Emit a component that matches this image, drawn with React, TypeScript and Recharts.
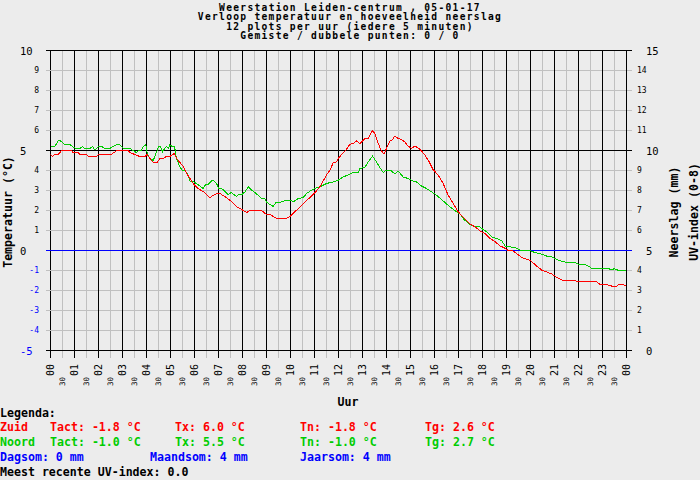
import { LineChart, Line, XAxis, YAxis, ReferenceLine } from 'recharts';

// Weerstation Leiden-centrum, 05-01-17: temperatuur zuid/noord per 5 minuten
const titleLines = [
  'Weerstation Leiden-centrum , 05-01-17',
  'Verloop temperatuur en hoeveelheid neerslag',
  '12 plots per uur (iedere 5 minuten)',
  'Gemiste / dubbele punten: 0 / 0',
];

const uurLabels = [
  '00', '01', '02', '03', '04', '05', '06', '07', '08', '09', '10', '11', '12',
  '13', '14', '15', '16', '17', '18', '19', '20', '21', '22', '23', '00',
];
const tempTicks = [-5, -4, -3, -2, -1, 0, 1, 2, 3, 4, 5, 6, 7, 8, 9, 10];
const neerslagTicks = [0, 1, 2, 3, 4, 5, 6, 7, 8, 9, 10, 11, 12, 13, 14, 15];

// [uur, temperatuur]
const zuid: [number, number][] = [
  [0, 4.8], [0.08, 4.7], [0.18, 4.8], [0.32, 4.8], [0.46, 5.0], [0.88, 5.0], [0.94, 4.9],
  [1.15, 4.9], [1.22, 4.8], [1.5, 4.8], [1.57, 4.7], [1.92, 4.7], [1.99, 4.8], [2.54, 4.8],
  [2.64, 4.9], [2.78, 5.0], [3.24, 5.0], [3.31, 4.9], [3.51, 4.8], [3.72, 4.7], [3.93, 4.7],
  [4.03, 4.8], [4.14, 4.6], [4.28, 4.4], [4.44, 4.4], [4.56, 4.6], [4.69, 4.6], [4.83, 4.7],
  [4.97, 4.7], [5.08, 4.8], [5.17, 4.85], [5.25, 4.6], [5.39, 4.4], [5.53, 4.2], [5.67, 3.85],
  [5.81, 3.6], [5.97, 3.3], [6.15, 3.1], [6.36, 2.95], [6.64, 2.65], [6.78, 2.75], [6.92, 2.85],
  [7.06, 2.85], [7.19, 2.75], [7.33, 2.65], [7.54, 2.45], [7.75, 2.2], [7.89, 2.1], [8.03, 2.0],
  [8.17, 1.9], [8.31, 2.0], [8.79, 2.0], [9.0, 1.8], [9.14, 1.8], [9.28, 1.7], [9.42, 1.6],
  [9.83, 1.6], [10.0, 1.72], [10.18, 1.93], [10.39, 2.18], [10.6, 2.43], [10.81, 2.65],
  [11.01, 2.88], [11.22, 3.18], [11.36, 3.48], [11.5, 3.77], [11.64, 4.02], [11.78, 4.38],
  [11.92, 4.43], [11.99, 4.6], [12.19, 4.88], [12.33, 5.05], [12.47, 5.3], [12.61, 5.35],
  [12.75, 5.48], [12.89, 5.35], [13.0, 5.47], [13.1, 5.6], [13.24, 5.6], [13.31, 5.77],
  [13.4, 6.0], [13.51, 5.85], [13.63, 5.43], [13.75, 5.07], [13.89, 4.82], [14.0, 5.1],
  [14.14, 5.47], [14.25, 5.55], [14.35, 5.72], [14.49, 5.6], [14.63, 5.55], [14.76, 5.43],
  [14.9, 5.22], [15.04, 5.1], [15.18, 5.22], [15.32, 5.13], [15.46, 4.98], [15.6, 4.77],
  [15.78, 4.43], [15.94, 4.05], [16.15, 3.77], [16.36, 3.35], [16.57, 2.77], [16.78, 2.35],
  [16.99, 1.93], [17.21, 1.65], [17.35, 1.48], [17.49, 1.32], [17.69, 1.18], [17.9, 0.98],
  [18.11, 0.85], [18.32, 0.6], [18.53, 0.43], [18.74, 0.22], [18.88, 0.15], [19.08, 0],
  [19.29, -0.03], [19.5, -0.23], [19.71, -0.4], [19.92, -0.45], [20.06, -0.57], [20.26, -0.78],
  [20.47, -0.98], [20.68, -1.07], [20.89, -1.18], [21.1, -1.35], [21.31, -1.48], [21.79, -1.48],
  [22.0, -1.57], [22.76, -1.57], [22.9, -1.7], [23.18, -1.7], [23.39, -1.78], [23.6, -1.78],
  [23.71, -1.68], [23.85, -1.68], [23.96, -1.78],
];

const noord: [number, number][] = [
  [0, 5.2], [0.18, 5.2], [0.32, 5.48], [0.42, 5.48], [0.56, 5.32], [0.69, 5.28], [0.81, 5.3],
  [0.94, 5.18], [1.08, 5.1], [1.22, 5.1], [1.33, 5.2], [1.43, 5.1], [1.64, 5.1], [1.75, 5.2],
  [1.85, 5.02], [1.99, 5.18], [2.13, 5.2], [2.26, 5.1], [2.47, 5.1], [2.61, 5.2], [2.75, 5.3],
  [2.89, 5.3], [3.03, 5.1], [3.31, 5.1], [3.44, 5.0], [3.58, 4.9], [3.67, 5.0], [3.79, 5.0],
  [3.86, 5.18], [3.97, 5.28], [4.03, 4.85], [4.14, 4.6], [4.28, 4.5], [4.42, 4.93], [4.51, 5.2],
  [4.58, 5.2], [4.67, 4.93], [4.76, 5.1], [4.83, 5.2], [4.92, 5.1], [4.97, 5.28], [5.08, 5.2],
  [5.17, 5.18], [5.25, 4.6], [5.39, 4.18], [5.5, 4.0], [5.6, 4.0], [5.74, 3.77], [5.83, 3.43],
  [5.97, 3.43], [6.08, 3.35], [6.22, 3.23], [6.36, 3.1], [6.46, 3.3], [6.57, 3.3], [6.71, 3.48],
  [6.81, 3.48], [6.92, 3.35], [7.01, 3.1], [7.13, 3.1], [7.26, 2.97], [7.4, 2.8], [7.54, 2.9],
  [7.61, 2.82], [7.75, 2.7], [7.85, 2.82], [7.99, 2.82], [8.1, 2.93], [8.24, 3.18], [8.33, 3.07],
  [8.51, 2.9], [8.65, 2.77], [8.79, 2.6], [8.93, 2.6], [9.0, 2.43], [9.14, 2.3], [9.28, 2.2],
  [9.39, 2.4], [9.56, 2.4], [9.83, 2.52], [10.0, 2.52], [10.11, 2.43], [10.32, 2.6],
  [10.53, 2.65], [10.67, 2.85], [10.88, 3.02], [11.08, 3.13], [11.29, 3.22], [11.5, 3.35],
  [11.78, 3.43], [11.99, 3.52], [12.19, 3.68], [12.4, 3.77], [12.61, 3.9], [12.82, 3.88],
  [12.89, 4.1], [13.1, 4.15], [13.24, 4.43], [13.42, 4.72], [13.58, 4.43], [13.72, 4.15],
  [13.86, 3.9], [14.0, 4.02], [14.17, 4.02], [14.35, 3.82], [14.49, 3.97], [14.69, 3.68],
  [14.9, 3.6], [15.11, 3.47], [15.25, 3.43], [15.46, 3.22], [15.67, 3.1], [15.88, 2.93],
  [16.08, 2.77], [16.36, 2.48], [16.64, 2.18], [16.92, 1.93], [17.07, 1.82], [17.21, 1.57],
  [17.42, 1.35], [17.63, 1.22], [17.83, 1.22], [17.97, 1.1], [18.18, 0.93], [18.39, 0.68],
  [18.6, 0.6], [18.81, 0.48], [18.94, 0.22], [19.15, 0.18], [19.36, 0.15], [19.5, 0.05],
  [19.71, -0.02], [19.99, -0.02], [20.19, -0.1], [20.33, -0.15], [20.47, -0.18], [20.68, -0.28],
  [20.89, -0.32], [21.1, -0.45], [21.38, -0.57], [21.65, -0.6], [21.86, -0.6], [22.0, -0.68],
  [22.21, -0.68], [22.42, -0.78], [22.56, -0.9], [22.9, -0.9], [23.25, -0.9], [23.39, -0.98],
  [23.49, -0.9], [23.67, -1.0], [23.96, -1.0],
];

const FONT = '"DejaVu Sans Mono", "Liberation Mono", monospace';
const BG = '#ececec';
const GRID = '#c0c0c0';
const RED = '#ff0000';
const GREEN = '#00cc00';
const BLUE = '#0000ff';

const PLOT_LEFT = 50.5;
const PLOT_RIGHT = 626.5;
const PLOT_BOTTOM = 350.5;

const zuidData = zuid.map(([uur, temp]) => ({ uur, temp }));
const noordData = noord.map(([uur, temp]) => ({ uur, temp }));
const uurTicks = uurLabels.flatMap((_, i) => (i < 24 ? [i, i + 0.5] : [i]));
const halfHours = uurTicks.filter(t => !Number.isInteger(t));
const wholeHours = uurTicks.filter(t => Number.isInteger(t));

function UurTick(props: any) {
  const { x, payload } = props;
  const v = payload.value as number;
  const whole = Number.isInteger(v);
  return (
    <g>
      <line x1={x} x2={x} y1={PLOT_BOTTOM} y2={PLOT_BOTTOM + 7} stroke={whole ? '#000' : GRID} shapeRendering="crispEdges" />
      {whole ? (
        <text transform={`translate(${x},364) rotate(-90)`} textAnchor="end" dominantBaseline="central" fontFamily={FONT} fontSize={10} fill="#000">
          {uurLabels[v]}
        </text>
      ) : (
        <text transform={`translate(${x},377) rotate(-90)`} textAnchor="end" dominantBaseline="central" fontFamily={FONT} fontSize={7.5} fill="#000">
          30
        </text>
      )}
    </g>
  );
}

function TempTick(props: any) {
  const { y, payload } = props;
  const v = payload.value as number;
  const big = v % 5 === 0;
  const lineColor = v === 0 ? BLUE : big ? '#000' : GRID;
  return (
    <g>
      <line x1={PLOT_LEFT - 5} x2={PLOT_LEFT} y1={y} y2={y} stroke={lineColor} shapeRendering="crispEdges" />
      <text
        x={big ? 20 : 39}
        y={y}
        textAnchor={big ? 'start' : 'end'}
        dominantBaseline="central"
        fontFamily={FONT}
        fontSize={big ? 10.5 : 8}
        fill={v < 0 ? BLUE : '#000'}
      >
        {v}
      </text>
    </g>
  );
}

function NeerslagTick(props: any) {
  const { y, payload } = props;
  const v = payload.value as number;
  const big = v % 5 === 0;
  const lineColor = v === 5 ? BLUE : big ? '#000' : GRID;
  return (
    <g>
      <line x1={PLOT_RIGHT} x2={PLOT_RIGHT + 5} y1={y} y2={y} stroke={lineColor} shapeRendering="crispEdges" />
      <text
        x={big ? 646 : 637}
        y={y}
        textAnchor="start"
        dominantBaseline="central"
        fontFamily={FONT}
        fontSize={big ? 10.5 : 8}
        fill="#000"
      >
        {v}
      </text>
    </g>
  );
}

const bold = { fontFamily: FONT, fontWeight: 700, fontSize: 11.6 } as const;

export default function App() {
  return (
    <div style={{ position: 'relative', width: 700, height: 480, background: BG }}>
      <style>{'body{margin:0}'}</style>
      <LineChart
        width={700}
        height={480}
        margin={{ top: 50.5, right: 0.5, bottom: 99.5, left: 0.5 }}
      >
        <XAxis
          dataKey="uur"
          type="number"
          domain={[0, 24]}
          ticks={uurTicks}
          interval={0}
          height={30}
          axisLine={false}
          tickLine={false}
          tick={UurTick}
          allowDataOverflow
        />
        <YAxis
          yAxisId="left"
          type="number"
          domain={[-5, 10]}
          ticks={tempTicks}
          interval={0}
          width={50}
          axisLine={false}
          tickLine={false}
          tick={TempTick}
          allowDataOverflow
        />
        <YAxis
          yAxisId="right"
          orientation="right"
          type="number"
          domain={[0, 15]}
          ticks={neerslagTicks}
          interval={0}
          width={73}
          axisLine={false}
          tickLine={false}
          tick={NeerslagTick}
          allowDataOverflow
        />

        {/* grid */}
        {tempTicks
          .filter(t => t % 5 !== 0)
          .map(t => (
            <ReferenceLine key={`h${t}`} yAxisId="left" y={t} stroke={GRID} shapeRendering="crispEdges" />
          ))}
        {halfHours.map(t => (
          <ReferenceLine key={`v${t}`} yAxisId="left" x={t} stroke={GRID} shapeRendering="crispEdges" />
        ))}
        {wholeHours.map(t => (
          <ReferenceLine key={`V${t}`} yAxisId="left" x={t} stroke="#000" shapeRendering="crispEdges" />
        ))}
        <ReferenceLine yAxisId="left" y={10} stroke="#000" shapeRendering="crispEdges" />
        <ReferenceLine yAxisId="left" y={5} stroke="#000" shapeRendering="crispEdges" />
        <ReferenceLine yAxisId="left" y={-5} stroke="#000" shapeRendering="crispEdges" />
        <ReferenceLine yAxisId="left" y={0} stroke={BLUE} shapeRendering="crispEdges" />

        <Line
          yAxisId="left"
          data={noordData}
          dataKey="temp"
          type="linear"
          stroke={GREEN}
          strokeWidth={1}
          dot={false}
          shapeRendering="crispEdges"
          isAnimationActive={false}
        />
        <Line
          yAxisId="left"
          data={zuidData}
          dataKey="temp"
          type="linear"
          stroke={RED}
          strokeWidth={1}
          dot={false}
          shapeRendering="crispEdges"
          isAnimationActive={false}
        />
      </LineChart>

      <svg width={700} height={480} style={{ position: 'absolute', left: 0, top: 0, pointerEvents: 'none' }}>
        {titleLines.map((line, i) => (
          <text
            key={line}
            x={350}
            y={10.5 + i * 9.6}
            textAnchor="middle"
            fontFamily={FONT}
            fontWeight={700}
            fontSize={9.6}
            letterSpacing={1.3}
            fill="#000"
          >
            {line}
          </text>
        ))}

        <text transform="translate(7.5,212) rotate(-90)" textAnchor="middle" dominantBaseline="central" {...bold} fill="#000">
          Temperatuur (°C)
        </text>
        <text transform="translate(673.5,212) rotate(-90)" textAnchor="middle" dominantBaseline="central" {...bold} fill="#000">
          Neerslag (mm)
        </text>
        <text transform="translate(693.5,212) rotate(-90)" textAnchor="middle" dominantBaseline="central" {...bold} fill="#000">
          UV-index (0-8)
        </text>
        <text x={348} y={406} textAnchor="middle" {...bold} fill="#000">
          Uur
        </text>

        {/* legenda */}
        <text x={0} y={416.5} {...bold} fill="#000">Legenda:</text>

        <text x={0} y={431} {...bold} fill={RED}>Zuid</text>
        <text x={50} y={431} {...bold} fill={RED}>Tact: -1.8 °C</text>
        <text x={175} y={431} {...bold} fill={RED}>Tx: 6.0 °C</text>
        <text x={300} y={431} {...bold} fill={RED}>Tn: -1.8 °C</text>
        <text x={425} y={431} {...bold} fill={RED}>Tg: 2.6 °C</text>

        <text x={0} y={446} {...bold} fill={GREEN}>Noord</text>
        <text x={50} y={446} {...bold} fill={GREEN}>Tact: -1.0 °C</text>
        <text x={175} y={446} {...bold} fill={GREEN}>Tx: 5.5 °C</text>
        <text x={300} y={446} {...bold} fill={GREEN}>Tn: -1.0 °C</text>
        <text x={425} y={446} {...bold} fill={GREEN}>Tg: 2.7 °C</text>

        <text x={0} y={461} {...bold} fill={BLUE}>Dagsom: 0 mm</text>
        <text x={150} y={461} {...bold} fill={BLUE}>Maandsom: 4 mm</text>
        <text x={300} y={461} {...bold} fill={BLUE}>Jaarsom: 4 mm</text>

        <text x={0} y={476} {...bold} fill="#000">Meest recente UV-index: 0.0</text>
      </svg>
    </div>
  );
}
